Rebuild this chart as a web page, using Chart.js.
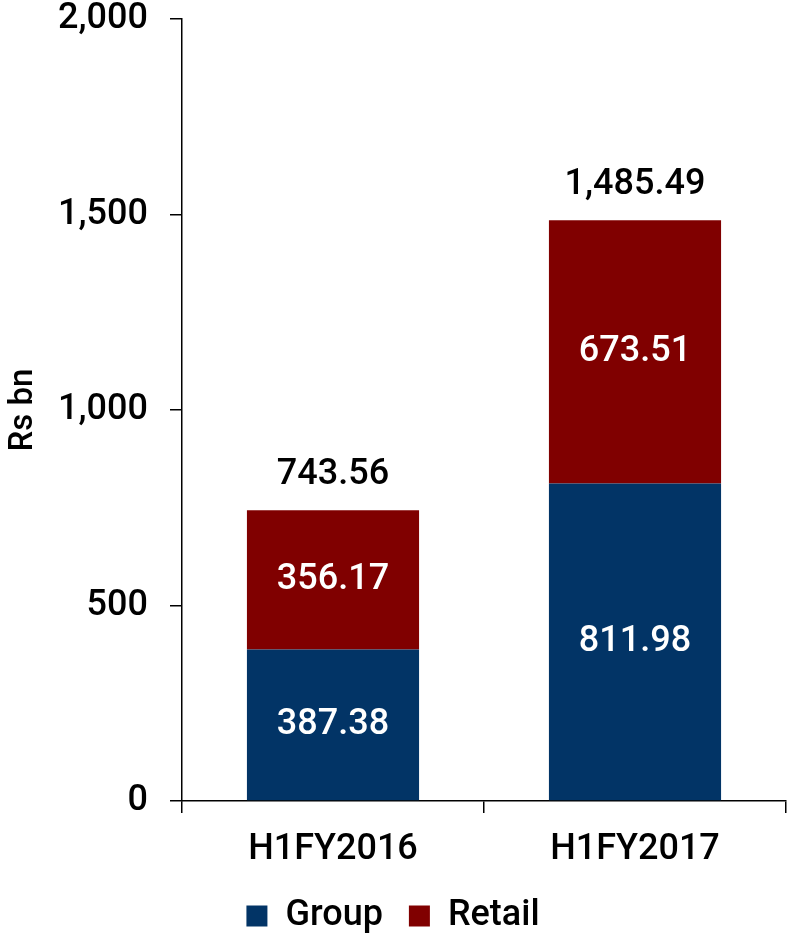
<!DOCTYPE html>
<html>
<head>
<meta charset="utf-8">
<script src="https://cdn.jsdelivr.net/npm/chart.js@4/dist/chart.umd.min.js"></script>
<style>
  html, body { margin: 0; padding: 0; background: #fff; }
  #wrap { width: 788px; height: 937px; }
</style>
</head>
<body>
<div id="wrap"><canvas id="chart"></canvas></div>
<script>
// Chart data
const periods = ['H1FY2016', 'H1FY2017'];
const groupValues = [387.38, 811.98];
const retailValues = [356.17, 673.51];
const totalValues = [743.56, 1485.49];

const FONT = "Roboto, 'Liberation Sans', Arial, sans-serif";

// Draws values inside each segment and totals above each stack
const valueLabels = {
  id: 'valueLabels',
  afterDatasetsDraw(chart) {
    const ctx = chart.ctx;
    ctx.save();
    ctx.font = '500 36px ' + FONT;
    ctx.textAlign = 'center';
    ctx.textBaseline = 'middle';
    chart.data.datasets.forEach((ds, i) => {
      const meta = chart.getDatasetMeta(i);
      meta.data.forEach((bar, j) => {
        const { x, y, base } = bar.getProps(['x', 'y', 'base'], true);
        ctx.fillStyle = '#fff';
        ctx.fillText(ds.data[j].toFixed(2), x, (y + base) / 2);
      });
    });
    // totals
    const top = chart.getDatasetMeta(chart.data.datasets.length - 1);
    top.data.forEach((bar, j) => {
      const { x, y } = bar.getProps(['x', 'y'], true);
      ctx.fillStyle = '#000';
      ctx.fillText(totalValues[j].toLocaleString('en-US', { minimumFractionDigits: 2 }), x, y - 35);
    });
    ctx.restore();
  }
};

new Chart(document.getElementById('chart'), {
  type: 'bar',
  data: {
    labels: periods,
    datasets: [
      {
        label: 'Group',
        data: groupValues,
        backgroundColor: '#023466',
        categoryPercentage: 1,
        barPercentage: 0.57
      },
      {
        label: 'Retail',
        data: retailValues,
        backgroundColor: '#800000',
        categoryPercentage: 1,
        barPercentage: 0.57
      }
    ]
  },
  options: {
    responsive: true,
    maintainAspectRatio: false,
    animation: false,
    layout: {
      padding: { top: 0, right: 2, left: 0, bottom: -7 }
    },
    plugins: {
      legend: {
        position: 'bottom',
        labels: {
          font: { family: FONT, size: 36, weight: 500 },
          color: '#000',
          boxWidth: 21,
          boxHeight: 21,
          padding: 26
        }
      },
      tooltip: { enabled: false }
    },
    scales: {
      x: {
        stacked: true,
        afterFit(scale) {
          scale.height = 71;
        },
        border: { color: '#000', width: 1.5 },
        grid: {
          offset: true,
          drawOnChartArea: false,
          tickLength: 12,
          color: '#000',
          lineWidth: 1.5
        },
        ticks: {
          color: '#000',
          padding: 15,
          font: { family: FONT, size: 36, weight: 500 }
        }
      },
      y: {
        stacked: true,
        min: 0,
        max: 2000,
        afterFit(scale) {
          scale.width = 182;
          scale.paddingTop = 19;
          scale.paddingBottom = 19;
        },
        border: { color: '#000', width: 1.5 },
        grid: {
          drawOnChartArea: false,
          tickLength: 12,
          color: '#000',
          lineWidth: 1.5
        },
        ticks: {
          stepSize: 500,
          color: '#000',
          padding: 22,
          font: { family: FONT, size: 36, weight: 500 },
          callback: v => v.toLocaleString('en-US')
        },
        title: {
          display: true,
          text: 'Rs bn',
          color: '#000',
          font: { family: FONT, size: 33, weight: 500 },
          padding: { top: 4, bottom: 0 }
        }
      }
    }
  },
  plugins: [valueLabels]
});
</script>
</body>
</html>
